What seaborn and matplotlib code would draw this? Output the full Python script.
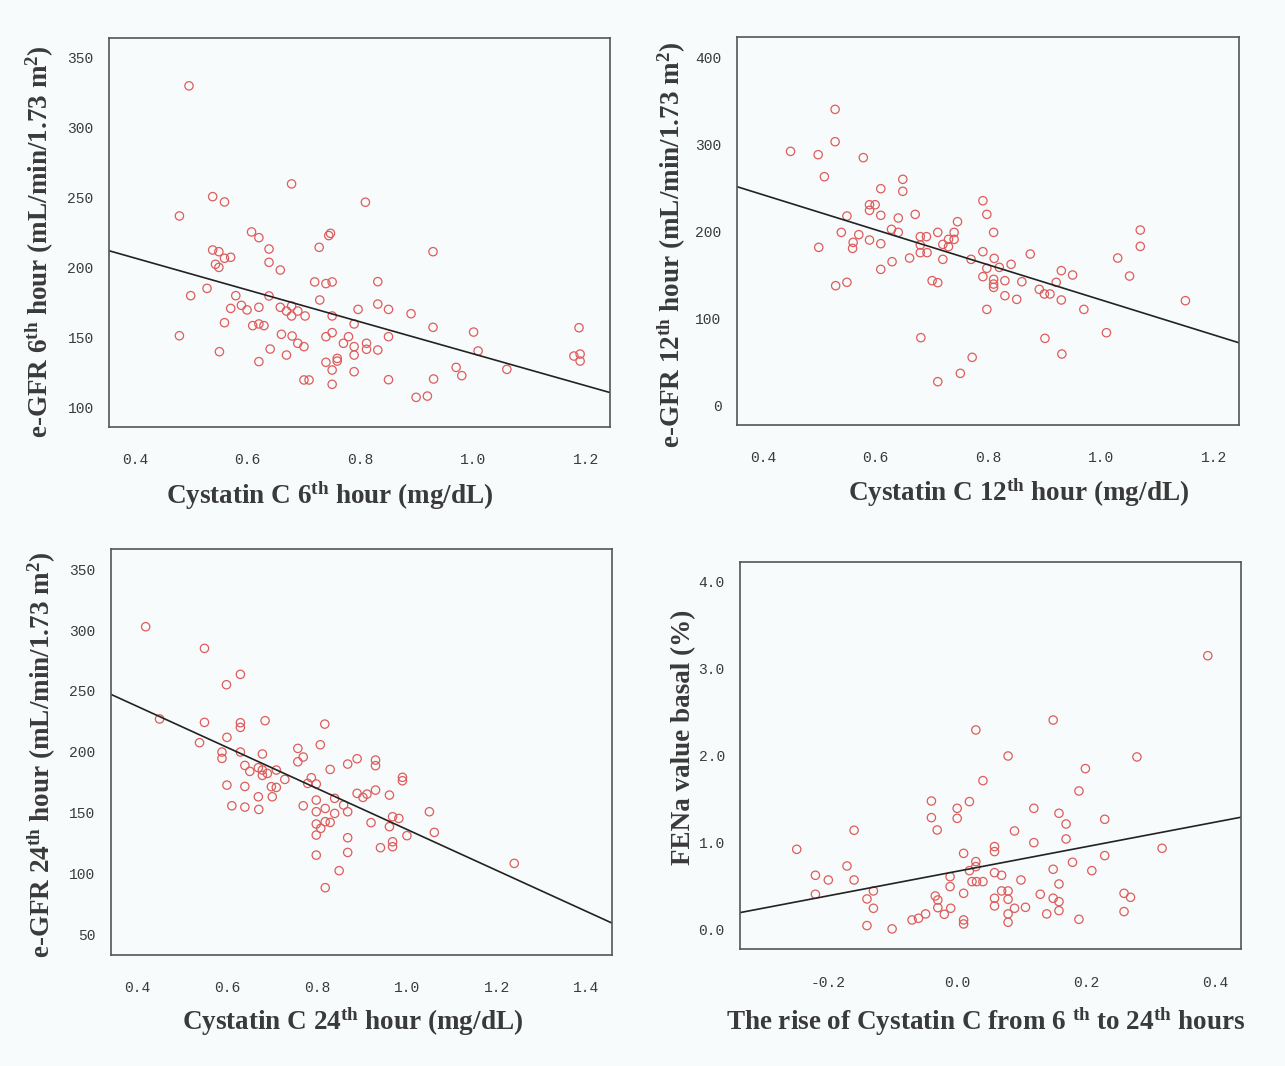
import numpy as np
import matplotlib
matplotlib.use("Agg")
import matplotlib.pyplot as plt
import seaborn as sns

# ---- Cystatin C at 6th hour vs e-GFR at 6th hour ----
cys6 = [0.496, 0.678, 0.538, 0.559, 0.479, 0.607, 0.620, 0.747, 0.744, 0.638, 0.727, 0.538, 0.549,
        0.559, 0.570, 0.543, 0.549, 0.638, 0.658, 0.719, 0.739, 0.750, 0.528, 0.499, 0.579, 0.638,
        0.728, 0.796, 0.570, 0.589, 0.599, 0.620, 0.658, 0.669, 0.678, 0.678, 0.689, 0.702, 0.750,
        0.789, 0.559, 0.609, 0.620, 0.629, 0.479, 0.660, 0.679, 0.689, 0.700, 0.739, 0.750, 0.779,
        0.770, 0.789, 0.789, 0.550, 0.640, 0.669, 0.620, 0.739, 0.759, 0.759, 0.750, 0.789, 0.700,
        0.709, 0.750,
        0.809, 0.929, 0.831, 0.831, 0.850, 0.890, 0.811, 0.811, 0.831, 0.850, 0.929, 1.001, 1.009,
        0.850, 0.930, 0.970, 0.980, 0.899, 0.919, 1.060, 1.188, 1.179, 1.190, 1.190]
gfr6 = [329.8, 259.8, 250.7, 246.9, 236.9, 225.5, 221.4, 224.5, 222.9, 213.3, 214.5, 212.6, 211.4,
        206.7, 207.4, 202.4, 200.2, 203.8, 198.3, 189.8, 188.6, 189.8, 185.2, 180.0, 180.0, 179.8,
        176.9, 170.2, 170.9, 173.1, 169.8, 171.7, 171.7, 169.0, 172.6, 165.5, 169.0, 165.5, 165.5,
        159.8, 160.7, 158.6, 159.8, 158.6, 151.4, 152.4, 151.2, 146.0, 143.6, 150.7, 153.6, 150.7,
        146.0, 143.6, 137.6, 140.0, 141.9, 137.6, 132.9, 132.4, 135.2, 133.3, 126.9, 125.7, 119.8,
        119.8, 116.7,
        246.7, 211.4, 190.0, 174.0, 170.2, 167.1, 146.0, 141.7, 141.2, 150.7, 157.4, 154.0, 140.5,
        120.0, 120.5, 128.8, 122.9, 107.4, 108.3, 127.4, 157.1, 136.9, 138.3, 133.3]
fit6 = (252.4, -113.9)   # intercept, slope

# ---- Cystatin C at 12th hour vs e-GFR at 12th hour ----
cys12 = [0.528, 0.528, 0.449, 0.498, 0.578, 0.509, 0.648, 0.648, 0.609, 0.589, 0.599, 0.589, 0.609,
         0.549, 0.640, 0.670, 0.790, 0.797, 0.745, 0.539, 0.570, 0.628, 0.640, 0.679, 0.690, 0.710,
         0.739, 0.739, 0.729, 0.719, 0.729, 0.499, 0.560, 0.559, 0.589, 0.609, 0.679, 0.679, 0.691,
         0.660, 0.719, 0.769, 0.790, 0.797, 0.790, 0.629, 0.609, 0.529, 0.549, 0.700, 0.710, 0.797,
         0.680, 0.771, 0.750, 0.710,
         0.809, 0.810, 0.819, 0.809, 0.809, 0.809, 0.829, 0.840, 0.859, 0.874, 0.829, 0.850, 0.890,
         0.899, 0.909, 0.920, 0.929, 0.929, 0.949, 0.969, 0.900, 0.930, 1.009, 1.029, 1.050, 1.069,
         1.069, 1.149]
gfr12 = [340.6, 303.4, 292.3, 288.5, 285.1, 263.2, 260.2, 246.4, 249.4, 231.0, 231.0, 224.5, 218.8,
         218.0, 215.7, 219.9, 235.6, 219.9, 211.5, 199.2, 196.6, 202.7, 199.2, 194.3, 194.3, 199.2,
         199.2, 191.2, 191.2, 185.4, 182.8, 182.0, 187.7, 180.8, 190.4, 186.2, 184.7, 175.9, 175.9,
         169.7, 168.2, 168.2, 177.0, 157.9, 148.3, 165.5, 156.7, 137.9, 141.8, 143.7, 141.4, 110.7,
         78.2, 55.6, 37.2, 27.6,
         199.2, 169.3, 159.0, 145.2, 139.8, 136.0, 143.7, 162.5, 142.5, 174.3, 126.4, 122.2, 133.7,
         128.4, 128.4, 141.8, 155.2, 121.5, 150.2, 110.7, 77.4, 59.4, 83.9, 169.7, 149.0, 201.9,
         183.1, 120.7]
fit12 = (323.1, -201.6)

# ---- Cystatin C at 24th hour vs e-GFR at 24th hour ----
cys24 = [0.418, 0.549, 0.629, 0.598, 0.449, 0.549, 0.629, 0.629, 0.684, 0.817, 0.538, 0.599, 0.807,
         0.588, 0.588, 0.629, 0.678, 0.639, 0.650, 0.669, 0.678, 0.678, 0.689, 0.709, 0.728, 0.757,
         0.757, 0.769, 0.787, 0.779, 0.798, 0.829, 0.868, 0.889, 0.599, 0.639, 0.698, 0.709, 0.669,
         0.700, 0.610, 0.639, 0.670, 0.769, 0.798, 0.798, 0.818, 0.839, 0.839, 0.868, 0.889, 0.859,
         0.798, 0.829, 0.818, 0.808, 0.798, 0.868, 0.868, 0.798, 0.849, 0.818,
         0.930, 0.930, 0.990, 0.990, 0.902, 0.911, 0.930, 0.961, 0.920, 0.961, 0.968, 0.982, 0.968,
         0.968, 0.941, 1.000, 1.050, 1.061, 1.239]
gfr24 = [302.8, 285.0, 263.6, 255.1, 226.9, 224.1, 223.8, 220.0, 225.5, 222.7, 207.4, 211.8, 205.7,
         199.7, 194.5, 199.7, 198.1, 188.7, 183.8, 186.8, 184.9, 180.5, 182.1, 184.9, 177.2, 202.7,
         191.7, 195.6, 178.6, 173.9, 173.4, 185.4, 189.8, 194.2, 172.5, 171.4, 171.2, 170.6, 162.9,
         162.9, 155.5, 154.4, 152.5, 155.5, 160.2, 150.6, 153.3, 161.6, 149.2, 150.6, 165.7, 156.1,
         140.5, 141.8, 142.4, 136.9, 131.4, 129.2, 117.1, 114.9, 102.1, 88.1,
         193.1, 188.5, 178.9, 176.1, 162.4, 165.1, 168.4, 164.3, 141.6, 138.3, 146.5, 145.1, 125.9,
         121.8, 121.0, 130.9, 150.6, 133.6, 108.1]
fit24 = (304.6, -168.6)

# ---- Rise of Cystatin C (6th -> 24th hour) vs basal FENa ----
rise = [0.029, 0.040, -0.040, -0.040, 0.000, 0.000, 0.019, -0.031, -0.160, -0.249, 0.010, 0.029,
        0.029, 0.019, -0.171, -0.220, -0.200, -0.160, -0.220, -0.130, -0.140, -0.130, -0.140, -0.101,
        -0.070, -0.060, -0.049, -0.034, -0.030, -0.030, -0.020, -0.011, -0.011, -0.010, 0.010, 0.010,
        0.010, 0.023, 0.030, 0.040,
        0.389, 0.149, 0.079, 0.279, 0.199, 0.189, 0.119, 0.158, 0.169, 0.229, 0.089, 0.169, 0.119,
        0.058, 0.058, 0.318, 0.229, 0.179, 0.058, 0.069, 0.149, 0.209, 0.099, 0.158, 0.069, 0.079,
        0.129, 0.259, 0.269, 0.058, 0.079, 0.149, 0.158, 0.058, 0.089, 0.106, 0.079, 0.079, 0.139,
        0.158, 0.189, 0.259]
fena = [2.297, 1.715, 1.481, 1.290, 1.397, 1.282, 1.474, 1.148, 1.145, 0.926, 0.880, 0.785, 0.727,
        0.681, 0.735, 0.628, 0.574, 0.574, 0.410, 0.448, 0.356, 0.249, 0.050, 0.012, 0.115, 0.134,
        0.184, 0.390, 0.344, 0.256, 0.180, 0.612, 0.498, 0.249, 0.421, 0.115, 0.069, 0.555, 0.555,
        0.555,
        3.150, 2.411, 1.998, 1.987, 1.853, 1.596, 1.397, 1.340, 1.217, 1.271, 1.137, 1.045, 1.003,
        0.957, 0.900, 0.938, 0.854, 0.777, 0.658, 0.628, 0.697, 0.681, 0.574, 0.528, 0.448, 0.448,
        0.410, 0.421, 0.375, 0.364, 0.352, 0.364, 0.325, 0.276, 0.249, 0.260, 0.184, 0.088, 0.184,
        0.222, 0.122, 0.211]
fit_rise = (0.674, 1.409)

TH = r"$^{\mathrm{th}}$"
panels = [
    dict(x=cys6, y=gfr6, fit=fit6, rect=[0.0848, 0.5994, 0.3899, 0.3650],
         xlim=(0.354, 1.243), ylim=(86.2, 364), xticks=[0.4, 0.6, 0.8, 1.0, 1.2],
         yticks=[100, 150, 200, 250, 300, 350], xfmt="{:.1f}", yfmt="{:.0f}",
         xlabel="Cystatin C 6" + TH + " hour (mg/dL)",
         ylabel="e-GFR 6" + TH + " hour (mL/min/1.73 m$^{2}$)",
         xl_pos=(0.441, -0.177), yl_pos=(-0.138, 0.476)),
    dict(x=cys12, y=gfr12, fit=fit12, rect=[0.5735, 0.6013, 0.3907, 0.3637],
         xlim=(0.354, 1.244), ylim=(-22.2, 423.4), xticks=[0.4, 0.6, 0.8, 1.0, 1.2],
         yticks=[0, 100, 200, 300, 400], xfmt="{:.1f}", yfmt="{:.0f}",
         xlabel="Cystatin C 12" + TH + " hour (mg/dL)",
         ylabel="e-GFR 12" + TH + " hour (mL/min/1.73 m$^{2}$)",
         xl_pos=(0.560, -0.175), yl_pos=(-0.129, 0.464)),
    dict(x=cys24, y=gfr24, fit=fit24, rect=[0.0861, 0.1041, 0.3899, 0.3806],
         xlim=(0.340, 1.456), ylim=(32.7, 366.5), xticks=[0.4, 0.6, 0.8, 1.0, 1.2, 1.4],
         yticks=[50, 100, 150, 200, 250, 300, 350], xfmt="{:.1f}", yfmt="{:.0f}",
         xlabel="Cystatin C 24" + TH + " hour (mg/dL)",
         ylabel="e-GFR 24" + TH + " hour (mL/min/1.73 m$^{2}$)",
         xl_pos=(0.482, -0.165), yl_pos=(-0.137, 0.493)),
    dict(x=rise, y=fena, fit=fit_rise, rect=[0.5759, 0.1095, 0.3896, 0.3636],
         xlim=(-0.337, 0.440), ylim=(-0.222, 4.23), xticks=[-0.2, 0.0, 0.2, 0.4],
         yticks=[0, 1, 2, 3, 4], xfmt="{:.1f}", yfmt="{:.1f}",
         xlabel="The rise of Cystatin C from 6 " + TH + " to 24" + TH + " hours",
         ylabel="FENa value basal (%)",
         xl_pos=(0.491, -0.188), yl_pos=(-0.113, 0.548)),
]

sns.set_theme(style="white")
BG = "#f8fbfb"
INK = "#3a3a3a"
RED = "#de5c5c"
plt.rcParams.update({
    "font.family": ["Liberation Serif", "DejaVu Serif"],
    "mathtext.fontset": "custom",
    "mathtext.rm": "Liberation Serif:bold",
    "mathtext.default": "rm",
    "axes.unicode_minus": False,
    "figure.facecolor": BG,
    "axes.facecolor": BG,
})

fig = plt.figure(figsize=(12.85, 10.66), dpi=100)

for p in panels:
    ax = fig.add_axes(p["rect"])
    ax.set_xlim(*p["xlim"])
    ax.set_ylim(*p["ylim"])
    sns.scatterplot(x=p["x"], y=p["y"], ax=ax, marker="o", s=36,
                    facecolor="none", edgecolor=RED, linewidth=0.9, legend=False)
    xs = np.array(p["xlim"])
    b0, b1 = p["fit"]
    sns.lineplot(x=xs, y=b0 + b1 * xs, ax=ax, color="#222222", linewidth=1.2, legend=False)
    ax.set_xlim(*p["xlim"])
    ax.set_ylim(*p["ylim"])

    ax.set_xticks(p["xticks"])
    ax.set_xticklabels([p["xfmt"].format(v) for v in p["xticks"]])
    ax.set_yticks(p["yticks"])
    ax.set_yticklabels([p["yfmt"].format(v) for v in p["yticks"]])
    ax.tick_params(axis="x", direction="out", length=7, width=1.0, color="#555555",
                   pad=12, labelsize=10.5, labelcolor=INK)
    ax.tick_params(axis="y", direction="out", length=6, width=1.0, color="#555555",
                   pad=5, labelsize=10.5, labelcolor=INK)
    for lab in ax.get_xticklabels() + ax.get_yticklabels():
        lab.set_family(["Liberation Mono", "DejaVu Sans Mono"])
    for s in ax.spines.values():
        s.set_visible(True)
        s.set_color("#555555")
        s.set_linewidth(1.2)

    ax.set_xlabel(p["xlabel"], fontsize=19.5, fontweight="bold", color=INK)
    ax.set_ylabel(p["ylabel"], fontsize=19.5, fontweight="bold", color=INK)
    ax.xaxis.set_label_coords(*p["xl_pos"])
    ax.yaxis.set_label_coords(*p["yl_pos"])
    ax.xaxis.label.set_va("center")
    ax.yaxis.label.set_va("center")

fig.savefig("out.png", dpi=100, facecolor=BG)
